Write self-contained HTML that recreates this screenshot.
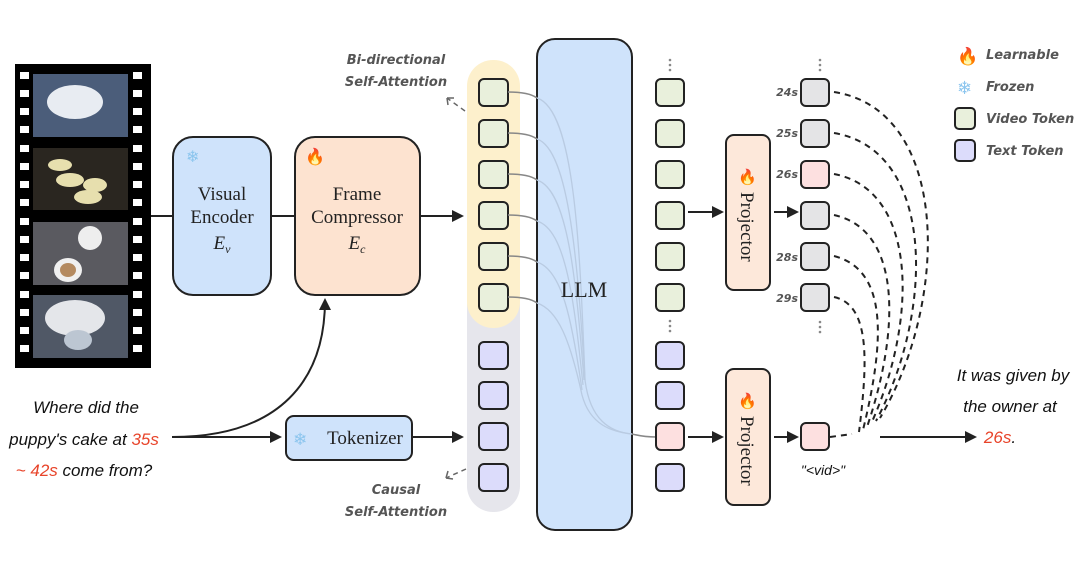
<!DOCTYPE html>
<html><head><meta charset="utf-8"><style>
html,body{margin:0;padding:0;background:#fff;}
svg{display:block;}
.s{font-family:"Liberation Serif","DejaVu Serif",serif;fill:#222;}
.i{font-family:"DejaVu Sans","Liberation Sans",sans-serif;font-style:italic;font-weight:bold;fill:#555;}
.h{font-family:"Liberation Sans","DejaVu Sans",sans-serif;font-style:italic;fill:#111;}
</style></head><body>
<svg width="1080" height="569" viewBox="0 0 1080 569" xmlns="http://www.w3.org/2000/svg">
<defs>
<marker id="b" markerWidth="12" markerHeight="12" refX="10" refY="6" orient="auto" markerUnits="userSpaceOnUse"><path d="M0,0 L12,6 L0,12 z" fill="#222"/></marker>
</defs>
<!-- film strip -->
<rect x="15" y="64" width="136" height="304" fill="#000"/>
<g fill="#fff">
<rect x="20" y="72" width="9" height="7"/><rect x="20" y="90" width="9" height="7"/><rect x="20" y="108" width="9" height="7"/><rect x="20" y="126" width="9" height="7"/><rect x="20" y="145" width="9" height="7"/><rect x="20" y="163" width="9" height="7"/><rect x="20" y="181" width="9" height="7"/><rect x="20" y="199" width="9" height="7"/><rect x="20" y="218" width="9" height="7"/><rect x="20" y="236" width="9" height="7"/><rect x="20" y="254" width="9" height="7"/><rect x="20" y="272" width="9" height="7"/><rect x="20" y="291" width="9" height="7"/><rect x="20" y="309" width="9" height="7"/><rect x="20" y="327" width="9" height="7"/><rect x="20" y="345" width="9" height="7"/>
<rect x="133" y="72" width="9" height="7"/><rect x="133" y="90" width="9" height="7"/><rect x="133" y="108" width="9" height="7"/><rect x="133" y="126" width="9" height="7"/><rect x="133" y="145" width="9" height="7"/><rect x="133" y="163" width="9" height="7"/><rect x="133" y="181" width="9" height="7"/><rect x="133" y="199" width="9" height="7"/><rect x="133" y="218" width="9" height="7"/><rect x="133" y="236" width="9" height="7"/><rect x="133" y="254" width="9" height="7"/><rect x="133" y="272" width="9" height="7"/><rect x="133" y="291" width="9" height="7"/><rect x="133" y="309" width="9" height="7"/><rect x="133" y="327" width="9" height="7"/><rect x="133" y="345" width="9" height="7"/>
</g>
<rect x="33" y="74" width="95" height="63" fill="#4b5d7a"/><ellipse cx="75" cy="102" rx="28" ry="17" fill="#e8ecf2"/>
<rect x="33" y="148" width="95" height="62" fill="#2a2620"/><ellipse cx="70" cy="180" rx="14" ry="7" fill="#e7dfae"/><ellipse cx="95" cy="185" rx="12" ry="7" fill="#e7dfae"/><ellipse cx="88" cy="197" rx="14" ry="7" fill="#e7dfae"/><ellipse cx="60" cy="165" rx="12" ry="6" fill="#e7dfae"/>
<rect x="33" y="222" width="95" height="63" fill="#5a5a60"/><ellipse cx="90" cy="238" rx="12" ry="12" fill="#eeeeee"/><ellipse cx="68" cy="270" rx="14" ry="12" fill="#f0f0f0"/><ellipse cx="68" cy="270" rx="8" ry="7" fill="#b48a60"/>
<rect x="33" y="295" width="95" height="63" fill="#505866"/><ellipse cx="75" cy="318" rx="30" ry="18" fill="#e4e6ea"/><ellipse cx="78" cy="340" rx="14" ry="10" fill="#bcc6d2"/>
<!-- encoders -->
<line x1="151" y1="216" x2="173" y2="216" stroke="#222" stroke-width="2"/>
<line x1="271" y1="216" x2="295" y2="216" stroke="#222" stroke-width="2"/>
<rect x="173" y="137" width="98" height="158" rx="20" fill="#cfe3fb" stroke="#222" stroke-width="2"/>
<text x="186" y="162" font-size="16" fill="#8bc5ee">❄</text>
<text class="s" x="222" y="200" font-size="19" text-anchor="middle">Visual</text>
<text class="s" x="222" y="223" font-size="19" text-anchor="middle">Encoder</text>
<text class="s" x="222" y="249" font-size="19" text-anchor="middle" font-style="italic">E<tspan font-size="12" dy="4">v</tspan></text>
<rect x="295" y="137" width="125" height="158" rx="20" fill="#fde3d0" stroke="#222" stroke-width="2"/>
<text x="305" y="162" font-size="16" fill="#f06020">🔥</text>
<text class="s" x="357" y="200" font-size="19" text-anchor="middle">Frame</text>
<text class="s" x="357" y="223" font-size="19" text-anchor="middle">Compressor</text>
<text class="s" x="357" y="249" font-size="19" text-anchor="middle" font-style="italic">E<tspan font-size="12" dy="4">c</tspan></text>
<line x1="420" y1="216" x2="462" y2="216" stroke="#222" stroke-width="2" marker-end="url(#b)"/>
<!-- question -->
<text class="h" x="86" y="413" font-size="17" text-anchor="middle">Where did the</text>
<text class="h" x="84" y="445" font-size="17" text-anchor="middle">puppy's cake at <tspan fill="#e8442a">35s</tspan></text>
<text class="h" x="84" y="476" font-size="17" text-anchor="middle"><tspan fill="#e8442a">~ 42s</tspan> come from?</text>
<path d="M172,437 C280,437 325,380 325,300" fill="none" stroke="#222" stroke-width="2" marker-end="url(#b)"/>
<line x1="172" y1="437" x2="280" y2="437" stroke="#222" stroke-width="2" marker-end="url(#b)"/>
<rect x="286" y="416" width="126" height="44" rx="8" fill="#cfe3fb" stroke="#222" stroke-width="2"/>
<text x="293" y="445" font-size="17" fill="#8bc5ee">❄</text>
<text class="s" x="365" y="444" font-size="19" text-anchor="middle">Tokenizer</text>
<line x1="412" y1="437" x2="462" y2="437" stroke="#222" stroke-width="2" marker-end="url(#b)"/>
<!-- attention labels -->
<text class="i" x="396" y="64" font-size="13" text-anchor="middle">Bi-directional</text>
<text class="i" x="396" y="86" font-size="13" text-anchor="middle">Self-Attention</text>
<path d="M465,111 L447,98" stroke="#666" stroke-width="1.5" stroke-dasharray="5,4" fill="none"/>
<path d="M447,98 l7,0 M447,98 l1,7" stroke="#666" stroke-width="1.5"/>
<text class="i" x="396" y="494" font-size="13" text-anchor="middle">Causal</text>
<text class="i" x="396" y="516" font-size="13" text-anchor="middle">Self-Attention</text>
<path d="M466,469 L446,478" stroke="#666" stroke-width="1.5" stroke-dasharray="5,4" fill="none"/>
<path d="M446,478 l2,-7 M446,478 l7,1" stroke="#666" stroke-width="1.5"/>
<!-- input column -->
<rect x="467" y="280" width="53" height="232" rx="26" fill="#e6e6ec"/>
<rect x="467" y="60" width="53" height="268" rx="26" fill="#fdf0cc"/>
<g stroke="#222" stroke-width="2">
<rect x="479" y="79" width="29" height="27" rx="5" fill="#e9f0dc"/>
<rect x="479" y="120" width="29" height="27" rx="5" fill="#e9f0dc"/>
<rect x="479" y="161" width="29" height="27" rx="5" fill="#e9f0dc"/>
<rect x="479" y="202" width="29" height="27" rx="5" fill="#e9f0dc"/>
<rect x="479" y="243" width="29" height="27" rx="5" fill="#e9f0dc"/>
<rect x="479" y="284" width="29" height="27" rx="5" fill="#e9f0dc"/>
<rect x="479" y="342" width="29" height="27" rx="5" fill="#dcdcfb"/>
<rect x="479" y="382" width="29" height="27" rx="5" fill="#dcdcfb"/>
<rect x="479" y="423" width="29" height="27" rx="5" fill="#dcdcfb"/>
<rect x="479" y="464" width="29" height="27" rx="5" fill="#dcdcfb"/>
</g>
<!-- LLM -->
<rect x="537" y="39" width="95" height="491" rx="18" fill="#cfe3fb" stroke="#222" stroke-width="2"/>
<g fill="none" stroke="#888" stroke-width="1.5">
<path d="M508,92 C525,92 533,95 537,98"/><path d="M508,133 C525,133 533,136 537,139"/><path d="M508,174 C525,174 533,177 537,180"/><path d="M508,215 C525,215 533,218 537,221"/><path d="M508,256 C525,256 533,259 537,262"/><path d="M508,297 C525,297 533,300 537,303"/>
<path d="M632,434 C640,436 648,437 656,437"/>
</g>
<g fill="none" stroke="#b9cbe2" stroke-width="1.3">
<path d="M537,98 C575,110 580,250 585,380 C590,420 610,432 632,434"/>
<path d="M537,139 C570,150 578,270 585,380"/>
<path d="M537,180 C568,190 576,280 584,380"/>
<path d="M537,221 C566,230 574,300 583,385"/>
<path d="M537,262 C562,270 572,320 582,390"/>
<path d="M537,303 C558,310 570,340 582,395 C590,425 612,432 632,434"/>
</g>
<text class="s" x="584" y="297" font-size="22" text-anchor="middle">LLM</text>
<!-- output column -->
<g fill="#888"><circle cx="670" cy="60" r="1.3"/><circle cx="670" cy="65" r="1.3"/><circle cx="670" cy="70" r="1.3"/><circle cx="670" cy="321" r="1.3"/><circle cx="670" cy="326" r="1.3"/><circle cx="670" cy="331" r="1.3"/>
<circle cx="820" cy="60" r="1.3"/><circle cx="820" cy="65" r="1.3"/><circle cx="820" cy="70" r="1.3"/><circle cx="820" cy="322" r="1.3"/><circle cx="820" cy="327" r="1.3"/><circle cx="820" cy="332" r="1.3"/></g>
<g stroke="#222" stroke-width="2">
<rect x="656" y="79" width="28" height="27" rx="5" fill="#e9f0dc"/>
<rect x="656" y="120" width="28" height="27" rx="5" fill="#e9f0dc"/>
<rect x="656" y="161" width="28" height="27" rx="5" fill="#e9f0dc"/>
<rect x="656" y="202" width="28" height="27" rx="5" fill="#e9f0dc"/>
<rect x="656" y="243" width="28" height="27" rx="5" fill="#e9f0dc"/>
<rect x="656" y="284" width="28" height="27" rx="5" fill="#e9f0dc"/>
<rect x="656" y="342" width="28" height="27" rx="5" fill="#dcdcfb"/>
<rect x="656" y="382" width="28" height="27" rx="5" fill="#dcdcfb"/>
<rect x="656" y="423" width="28" height="27" rx="5" fill="#fde0e0"/>
<rect x="656" y="464" width="28" height="27" rx="5" fill="#dcdcfb"/>
<rect x="801" y="79" width="28" height="27" rx="5" fill="#e4e4e6"/>
<rect x="801" y="120" width="28" height="27" rx="5" fill="#e4e4e6"/>
<rect x="801" y="161" width="28" height="27" rx="5" fill="#fde0e0"/>
<rect x="801" y="202" width="28" height="27" rx="5" fill="#e4e4e6"/>
<rect x="801" y="243" width="28" height="27" rx="5" fill="#e4e4e6"/>
<rect x="801" y="284" width="28" height="27" rx="5" fill="#e4e4e6"/>
<rect x="801" y="423" width="28" height="27" rx="5" fill="#fde0e0"/>
</g>
<g class="i" font-size="11" text-anchor="end"><text x="798" y="96">24s</text><text x="798" y="137">25s</text><text x="798" y="178">26s</text><text x="798" y="261">28s</text><text x="798" y="302">29s</text></g>
<!-- projectors -->
<rect x="726" y="135" width="44" height="155" rx="8" fill="#fde8da" stroke="#222" stroke-width="2"/>
<text x="738" y="182" font-size="15" fill="#f06020">🔥</text>
<text class="s" x="0" y="0" font-size="19" transform="translate(741,192) rotate(90)">Projector</text>
<rect x="726" y="369" width="44" height="136" rx="8" fill="#fde8da" stroke="#222" stroke-width="2"/>
<text x="738" y="406" font-size="15" fill="#f06020">🔥</text>
<text class="s" x="0" y="0" font-size="19" transform="translate(741,416) rotate(90)">Projector</text>
<line x1="688" y1="212" x2="722" y2="212" stroke="#222" stroke-width="2" marker-end="url(#b)"/>
<line x1="774" y1="212" x2="797" y2="212" stroke="#222" stroke-width="2" marker-end="url(#b)"/>
<line x1="688" y1="437" x2="722" y2="437" stroke="#222" stroke-width="2" marker-end="url(#b)"/>
<line x1="774" y1="437" x2="797" y2="437" stroke="#222" stroke-width="2" marker-end="url(#b)"/>
<text class="h" x="823" y="475" font-size="14" text-anchor="middle">"&lt;vid&gt;"</text>
<!-- dashed curves -->
<g fill="none" stroke="#222" stroke-width="2" stroke-dasharray="6,5">
<path d="M834,92 C950,110 950,300 880,418"/>
<path d="M834,133 C935,150 935,310 876,421"/>
<path d="M834,174 C918,190 918,320 871,424"/>
<path d="M834,215 C902,230 900,330 867,427"/>
<path d="M834,256 C888,270 885,340 863,430"/>
<path d="M834,297 C870,305 868,360 859,432"/>
<path d="M830,437 L852,434"/>
</g>
<line x1="880" y1="437" x2="975" y2="437" stroke="#222" stroke-width="2" marker-end="url(#b)"/>
<text class="h" x="1013" y="381" font-size="17" text-anchor="middle">It was given by</text>
<text class="h" x="1010" y="412" font-size="17" text-anchor="middle">the owner at</text>
<text class="h" x="1000" y="443" font-size="17" text-anchor="middle"><tspan fill="#e8442a">26s</tspan>.</text>
<!-- legend -->
<text x="957" y="62" font-size="17" fill="#f06020">🔥</text>
<text class="i" x="986" y="59" font-size="13">Learnable</text>
<text x="957" y="94" font-size="18" fill="#8bc5ee">❄</text>
<text class="i" x="986" y="91" font-size="13">Frozen</text>
<rect x="955" y="108" width="20" height="21" rx="4" fill="#e9f0dc" stroke="#222" stroke-width="2"/>
<text class="i" x="986" y="123" font-size="13">Video Token</text>
<rect x="955" y="140" width="20" height="21" rx="4" fill="#dcdcfb" stroke="#222" stroke-width="2"/>
<text class="i" x="986" y="155" font-size="13">Text Token</text>
</svg>
</body></html>
